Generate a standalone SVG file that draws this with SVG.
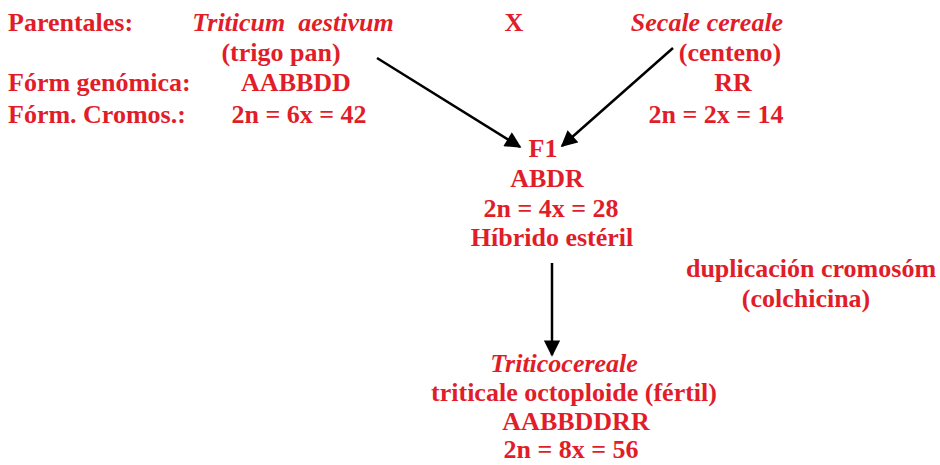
<svg xmlns="http://www.w3.org/2000/svg" width="940" height="465" viewBox="0 0 940 465">
<style>
text{font-family:"Liberation Serif","Times New Roman",serif;font-weight:bold;font-size:26px;fill:#e11d2a}
.i{font-style:italic}
.m{text-anchor:middle}
.c{stroke:#000;stroke-width:2.5;fill:none;marker-end:url(#ah)}
</style>
<defs>
<marker id="ah" viewBox="0 0 10 10" refX="9" refY="5" markerWidth="7" markerHeight="6.5" orient="auto" markerUnits="strokeWidth">
<path d="M0,0 L10,5 L0,10 z" fill="#000"/>
</marker>
</defs>
<rect width="940" height="465" fill="#fff"/>
<g id="labels">
<text x="8" y="31">Parentales:</text>
<text x="8" y="91">Fórm genómica:</text>
<text x="8" y="123">Fórm. Cromos.:</text>
<text x="514" y="31" class="m">X</text>
</g>
<g id="triticum">
<text x="293" y="31" class="m i" xml:space="preserve">Triticum  aestivum</text>
<text x="281" y="61" class="m">(trigo pan)</text>
<text x="296" y="91" class="m">AABBDD</text>
<text x="299" y="123" class="m">2n = 6x = 42</text>
</g>
<g id="secale">
<text x="707" y="31" class="m i">Secale cereale</text>
<text x="730" y="61" class="m">(centeno)</text>
<text x="733" y="91" class="m">RR</text>
<text x="716" y="123" class="m">2n = 2x = 14</text>
</g>
<g id="f1">
<text x="543" y="157" class="m">F1</text>
<text x="547" y="187" class="m">ABDR</text>
<text x="551" y="217" class="m">2n = 4x = 28</text>
<text x="552" y="246" class="m">Híbrido estéril</text>
</g>
<g id="duplicacion">
<text x="811" y="277" class="m">duplicación cromosóm</text>
<text x="806" y="307" class="m">(colchicina)</text>
</g>
<g id="triticale">
<text x="564" y="372" class="m i">Triticocereale</text>
<text x="574" y="401" class="m">triticale octoploide (fértil)</text>
<text x="576" y="430" class="m">AABBDDRR</text>
<text x="571" y="458" class="m">2n = 8x = 56</text>
</g>
<g id="connectors">
<path class="c" d="M377,58 L520,147"/>
<path class="c" d="M673,48 L562,146"/>
<path class="c" d="M552,263 L552,355"/>
</g>
</svg>
